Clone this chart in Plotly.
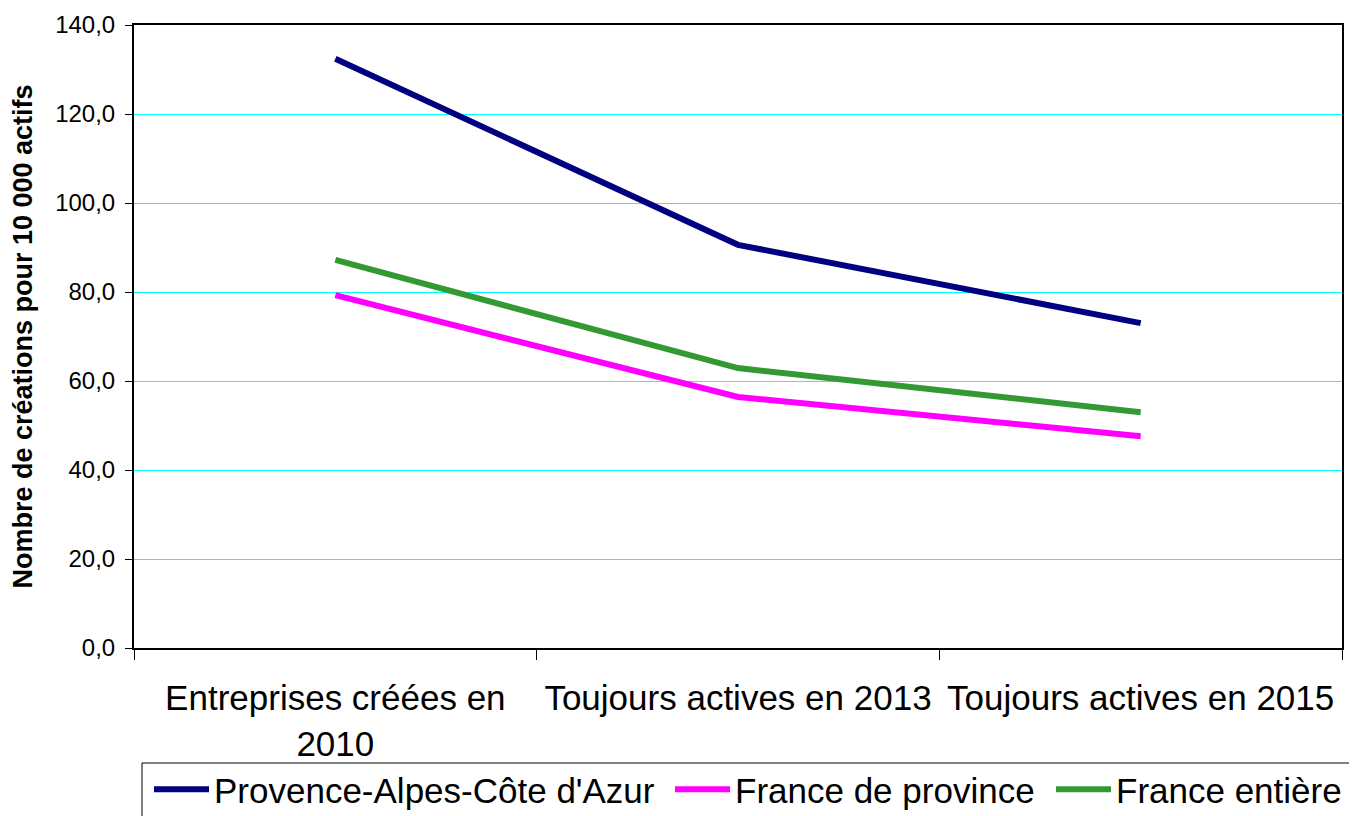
import plotly.graph_objects as go

categories = ["Entreprises créées en<br>2010", "Toujours actives en 2013", "Toujours actives en 2015"]
paca = [132.4, 90.6, 73.0]
province = [79.3, 56.4, 47.6]
france = [87.2, 62.9, 53.0]
series_names = ["Provence-Alpes-Côte d'Azur", "France de province", "France entière"]
colors = ["#000080", "#FF00FF", "#339933"]
y_ticks = [0, 20, 40, 60, 80, 100, 120, 140]
y_tick_labels = ["0,0", "20,0", "40,0", "60,0", "80,0", "100,0", "120,0", "140,0"]

font_family = "Liberation Sans, Arial, sans-serif"

W, H = 1357, 816
OFF = 8  # page body margin offset
L, R, T, B = 134 - OFF, 1357 - 1342 + OFF, 25 - OFF, 816 - 648 + OFF
PW, PH = W - L - R, H - T - B

legend_ids = ["legend", "legend2", "legend3"]
legend_symbol_x = [154, 675, 1056]
legend_top = 763

fig = go.Figure()
for name, vals, col, lid in zip(series_names, [paca, province, france], colors, legend_ids):
    fig.add_trace(go.Scatter(
        x=categories, y=vals, name=name, mode="lines",
        line=dict(color=col, width=6), legend=lid,
    ))

legend_layout = {}
for lid, sx in zip(legend_ids, legend_symbol_x):
    legend_layout[lid] = dict(
        orientation="h",
        xref="container", x=(sx - OFF - 5) / W, xanchor="left",
        yref="container", y=1 - (legend_top - 3 - OFF) / H, yanchor="top",
        font=dict(size=35, family=font_family),
        borderwidth=0, bgcolor="rgba(0,0,0,0)",
        itemwidth=55,
    )

# legend frame
fig.add_shape(
    type="rect", xref="paper", yref="paper",
    x0=(142 - OFF - L) / PW, x1=(W + 10 - L) / PW,
    y0=(H - B - (legend_top - OFF)) / PH, y1=(H - B - (H + 10)) / PH,
    line=dict(color="black", width=1), fillcolor="rgba(0,0,0,0)", layer="below",
)

fig.update_layout(
    width=W, height=H,
    paper_bgcolor="white", plot_bgcolor="white",
    margin=dict(l=L, r=R, t=T, b=B, autoexpand=False),
    font=dict(family=font_family, color="black"),
    showlegend=True,
    **legend_layout,
    xaxis=dict(
        type="category", range=[-0.5, 2.5],
        tickson="boundaries", ticks="outside", ticklen=10, tickcolor="black",
        showgrid=False, showline=True, linecolor="black", linewidth=2, mirror=True,
        tickfont=dict(size=35, family=font_family),
        ticklabelstandoff=18,
    ),
    yaxis=dict(
        range=[0, 140], tickvals=y_ticks, ticktext=y_tick_labels,
        ticks="outside", ticklen=7, tickcolor="black",
        showgrid=True, gridcolor="#00FFFF", gridwidth=1,
        showline=True, linecolor="black", linewidth=2, mirror=True,
        zeroline=False,
        tickfont=dict(size=24, family=font_family),
        ticklabelstandoff=5,
        title=dict(text="<b>Nombre de créations pour 10 000 actifs</b>",
                   font=dict(size=27, family=font_family), standoff=15),
    ),
)

fig.write_html("out.html")
